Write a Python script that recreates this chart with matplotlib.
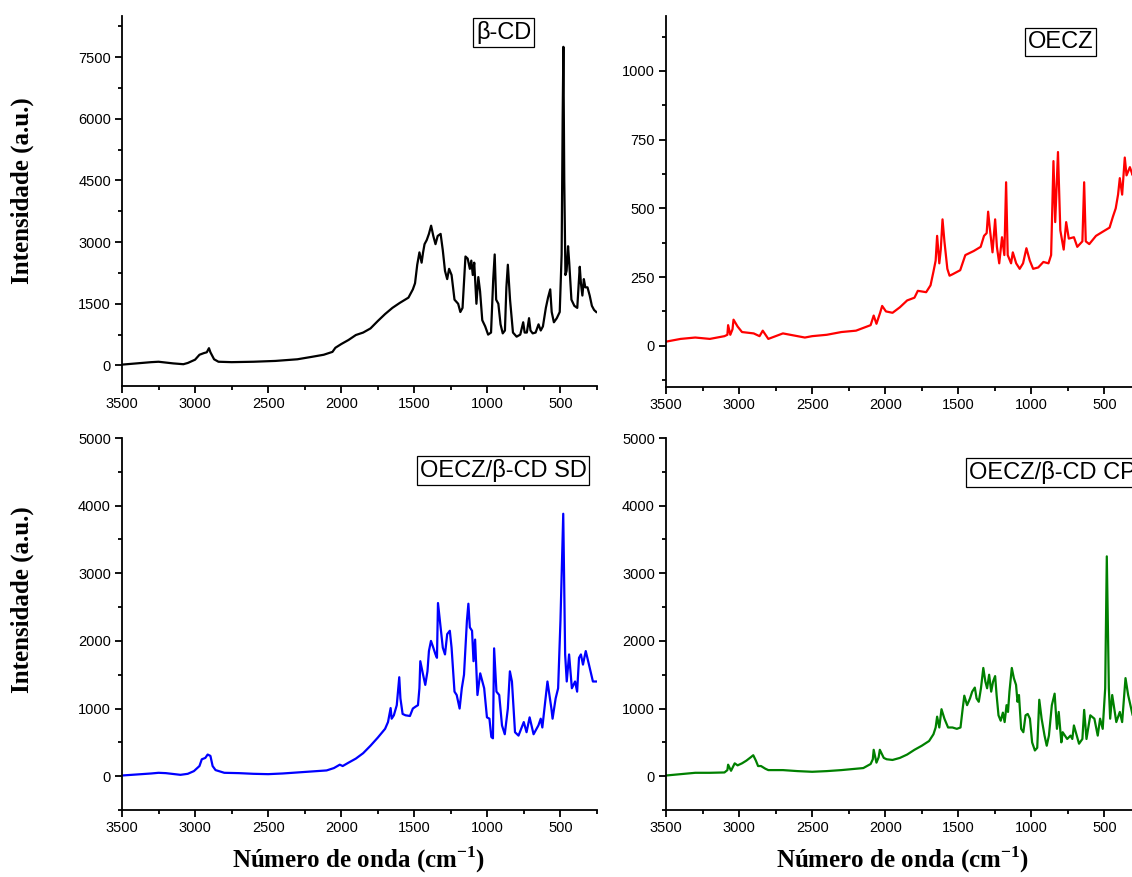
import numpy as np
import matplotlib
matplotlib.use("Agg")
import matplotlib.pyplot as plt
from matplotlib.ticker import MultipleLocator

plt.rcParams['font.family'] = ['Liberation Sans', 'DejaVu Sans']
plt.rcParams['mathtext.fontset'] = 'custom'
plt.rcParams['mathtext.rm'] = 'Liberation Serif:bold'
plt.rcParams['mathtext.bf'] = 'Liberation Serif:bold'

## == spectra (wavenumber cm-1, intensity a.u.) ==
bcd_wn = [3500, 3400, 3300, 3250, 3150, 3080, 3050, 3000, 2970, 2940, 2920, 2905, 2895, 2870, 2840,
          2750, 2600, 2450, 2300, 2200, 2120, 2060, 2040, 2000, 1950, 1900, 1850, 1800, 1750, 1700,
          1650, 1600, 1540, 1510, 1495, 1480, 1465, 1450, 1440, 1430, 1415, 1400, 1385, 1370, 1355,
          1340, 1320, 1305, 1290, 1275, 1262, 1245, 1225, 1200, 1185, 1170, 1150, 1135, 1120, 1110,
          1100, 1090, 1075, 1062, 1050, 1035, 1015, 995, 975, 960, 950, 940, 925, 910, 895, 880, 870,
          860, 845, 825, 800, 775, 755, 745, 730, 715, 705, 690, 670, 650, 635, 620, 600, 585, 570,
          560, 545, 525, 505, 492, 485, 480, 474, 466, 458, 448, 440, 425, 405, 385, 375, 368, 360,
          350, 340, 330, 315, 300, 285, 270, 255]
bcd_int = [20, 50, 80, 90, 50, 30, 60, 140, 260, 300, 320, 420, 320, 150, 90,
           80, 90, 110, 150, 210, 260, 330, 430, 520, 620, 740, 800, 900, 1080, 1250,
           1400, 1520, 1650, 1850, 2000, 2450, 2750, 2500, 2750, 2950, 3050, 3200, 3400, 3150, 2950,
           3150, 3200, 2800, 2300, 2100, 2350, 2200, 1600, 1500, 1300, 1400, 2650, 2600, 2350, 2550,
           2200, 2500, 1500, 2150, 1800, 1100, 950, 750, 800, 2100, 2700, 1600, 1500, 1000, 780, 850, 1900,
           2450, 1600, 800, 700, 750, 1050, 800, 800, 1150, 850, 780, 800, 1000, 850, 950, 1400, 1650, 1850,
           1300, 1050, 1150, 1300, 2700, 6000, 7750, 4500, 2200, 2300, 2900, 2500, 1600, 1450, 1400, 2000, 2400, 2000,
           1700, 2100, 1900, 1900, 1700, 1450, 1350, 1300]

oecz_wn = [3500, 3400, 3300, 3200, 3150, 3100, 3080, 3075, 3060, 3045, 3038, 3010, 2980, 2900, 2860,
           2838, 2800, 2750, 2700, 2650, 2600, 2550, 2500, 2400, 2300, 2200, 2150, 2100, 2079, 2060,
           2035, 2021, 1995, 1950, 1900, 1850, 1800, 1777, 1720, 1690, 1670, 1655, 1645, 1630, 1620,
           1608, 1595, 1575, 1560, 1540, 1487, 1452, 1394, 1347, 1324, 1306, 1296, 1285, 1266, 1248,
           1236, 1220, 1201, 1185, 1173, 1162, 1139, 1127, 1104, 1080, 1057, 1034, 1011, 988, 953, 918,
           883, 865, 849, 837, 818, 802, 779, 762, 744, 709, 686, 651, 639, 628, 604, 558, 512, 465,
           442, 423, 407, 395, 379, 361, 349, 326, 307, 290]
oecz_int = [15, 25, 30, 25, 30, 35, 40, 75, 40, 60, 95, 70, 50, 45, 35,
            55, 25, 35, 45, 40, 35, 30, 35, 40, 50, 55, 65, 75, 110, 80,
            120, 145, 125, 120, 140, 165, 175, 200, 195, 220, 270, 310, 400, 300, 350,
            460, 380, 280, 255, 260, 275, 330, 345, 360, 400, 410, 488, 430, 340, 460,
            360, 300, 395, 330, 595, 330, 300, 340, 300, 280, 300, 355, 310, 280, 285, 305,
            300, 330, 672, 450, 705, 420, 350, 450, 390, 395, 360, 380, 595, 380, 370, 400, 415, 430,
            470, 500, 550, 610, 550, 685, 620, 650, 620, 640]

sd_wn = [3500, 3400, 3300, 3250, 3200, 3100, 3050, 3008, 2970, 2954, 2930, 2914, 2895, 2880, 2860,
         2800, 2700, 2600, 2500, 2400, 2300, 2200, 2100, 2050, 2010, 1990, 1950, 1900, 1850, 1800,
         1750, 1700, 1680, 1662, 1655, 1640, 1620, 1603, 1595, 1580, 1560, 1530, 1510, 1490, 1475,
         1465, 1459, 1440, 1425, 1410, 1400, 1386, 1370, 1355, 1345, 1338, 1320, 1305, 1290, 1275,
         1257, 1245, 1225, 1210, 1190, 1175, 1160, 1140, 1130, 1120, 1105, 1095, 1084, 1068, 1049,
         1022, 1003, 986, 973, 962, 954, 938, 919, 900, 881, 860, 846, 832, 811, 787, 751, 732, 711,
         684, 651, 635, 624, 589, 562, 554, 533, 516, 500, 481, 468, 457, 441, 422, 400, 386, 373,
         360, 346, 327, 305, 278, 257]
sd_int = [10, 25, 40, 50, 45, 20, 35, 75, 150, 250, 270, 320, 300, 150, 90,
          50, 45, 35, 30, 40, 55, 70, 85, 120, 170, 150, 200, 260, 340, 450,
          570, 700, 800, 1007, 850, 900, 1050, 1463, 1150, 920, 900, 890, 1000, 1030, 1050,
          1300, 1700, 1500, 1350, 1550, 1850, 2000, 1900, 1800, 1750, 2560, 2200, 1900, 1800, 2100,
          2150, 1900, 1250, 1200, 1000, 1300, 1500, 2300, 2550, 2200, 2150, 1700, 2020, 1200, 1520,
          1300, 870, 850, 580, 560, 1890, 1250, 1200, 750, 620, 1000, 1550, 1400, 650, 600, 800, 650, 870,
          620, 750, 850, 720, 1400, 1000, 850, 1150, 1300, 2300, 3880, 1800, 1400, 1800, 1300, 1400, 1250, 1750,
          1800, 1650, 1850, 1650, 1400, 1400]

cp_wn = [3500, 3400, 3300, 3200, 3100, 3080, 3075, 3055, 3030, 3010, 2980, 2950, 2920, 2903, 2885,
         2870, 2850, 2820, 2800, 2700, 2600, 2500, 2400, 2300, 2200, 2150, 2100, 2085, 2079, 2060,
         2045, 2037, 2010, 1990, 1950, 1900, 1850, 1800, 1750, 1700, 1670, 1655, 1645, 1630, 1615,
         1595, 1570, 1540, 1510, 1485, 1470, 1459, 1440, 1420, 1405, 1387, 1375, 1360, 1345, 1329,
         1315, 1303, 1289, 1275, 1262, 1248, 1238, 1225, 1210, 1195, 1183, 1170, 1160, 1150, 1134,
         1120, 1105, 1095, 1085, 1070, 1055, 1040, 1025, 1010, 995, 976, 960, 946, 930, 910, 895,
         880, 860, 841, 825, 813, 795, 786, 755, 732, 720, 709, 674, 651, 639, 623, 597, 569, 546,
         530, 512, 495, 484, 470, 461, 447, 419, 395, 379, 356, 338, 307, 290]
cp_int = [10, 30, 50, 50, 55, 90, 170, 80, 190, 160, 190, 230, 280, 310, 230,
          150, 150, 110, 90, 90, 75, 65, 75, 90, 110, 120, 180, 250, 390, 200,
          280, 390, 270, 250, 240, 270, 320, 390, 450, 520, 620, 720, 880, 720, 990,
          850, 720, 720, 700, 720, 1000, 1190, 1050, 1150, 1250, 1310, 1150, 1100, 1300, 1600,
          1400, 1300, 1500, 1250, 1400, 1480, 1200, 900, 820, 940, 800, 1050, 950, 1250, 1600,
          1450, 1350, 1100, 1200, 700, 650, 900, 920, 850, 500, 380, 420, 1130, 850, 600, 450,
          600, 1050, 1220, 700, 950, 500, 650, 550, 600, 550, 750, 480, 550, 980, 550, 900, 850, 600,
          850, 700, 1300, 3250, 1300, 850, 1200, 800, 950, 800, 1450, 1200, 900, 880]

names = ['\u03b2-CD', 'OECZ', 'OECZ/\u03b2-CD SD', 'OECZ/\u03b2-CD CP']
colors = ['black', '#ff0000', '#0000ff', '#008000']
spectra = [(bcd_wn, bcd_int), (oecz_wn, oecz_int), (sd_wn, sd_int), (cp_wn, cp_int)]
ylims = [(-500, 8500), (-150, 1200), (-500, 5000), (-500, 5000)]
ymajor = [1500, 250, 1000, 1000]

fig = plt.figure(figsize=(11.32, 8.77), dpi=100)
W, H = 1132., 877.
## axes boxes in pixels (left, top, right, bottom) -- right column runs past the page edge
boxes = [(122, 16, 597, 386), (666, 16, 1141, 387), (122, 438, 597, 810), (666, 438, 1141, 810)]
label_pos = [(0.804, 0.955), (0.83, 0.93), (0.802, 0.912), (0.813, 0.908)]

for i in range(4):
    l, t, r, b = boxes[i]
    ax = fig.add_axes([l / W, 1 - b / H, (r - l) / W, (b - t) / H])
    wn, inten = spectra[i]
    ax.plot(wn, inten, color=colors[i], lw=1.6)
    ax.set_xlim(3500, 250)
    ax.set_ylim(*ylims[i])
    ax.xaxis.set_major_locator(MultipleLocator(500))
    ax.xaxis.set_minor_locator(MultipleLocator(250))
    ax.yaxis.set_major_locator(MultipleLocator(ymajor[i]))
    ax.yaxis.set_minor_locator(MultipleLocator(ymajor[i] / 2))
    for s in ['top', 'right']:
        ax.spines[s].set_visible(False)
    for s in ['left', 'bottom']:
        ax.spines[s].set_linewidth(1.3)
    ax.tick_params(which='major', direction='out', length=5, width=1.3, labelsize=10.5, pad=3)
    ax.tick_params(which='minor', direction='out', length=3, width=1.3)
    ax.text(label_pos[i][0], label_pos[i][1], names[i], transform=ax.transAxes,
            ha='center', va='center', fontsize=17,
            bbox=dict(boxstyle='square,pad=0.12', fc='white', ec='black', lw=0.9))

serif_bold = dict(family='Liberation Serif', fontweight='bold', fontsize=18)
fig.text(22 / W, 1 - 191 / H, 'Intensidade (a.u.)', rotation=90, ha='center', va='center', **serif_bold)
fig.text(22 / W, 1 - 600 / H, 'Intensidade (a.u.)', rotation=90, ha='center', va='center', **serif_bold)
fig.text(359 / W, 1 - 860 / H, 'N\u00famero de onda (cm$^{-1}$)', ha='center', va='center', **serif_bold)
fig.text(903 / W, 1 - 860 / H, 'N\u00famero de onda (cm$^{-1}$)', ha='center', va='center', **serif_bold)

fig.savefig('out.png', dpi=100)
